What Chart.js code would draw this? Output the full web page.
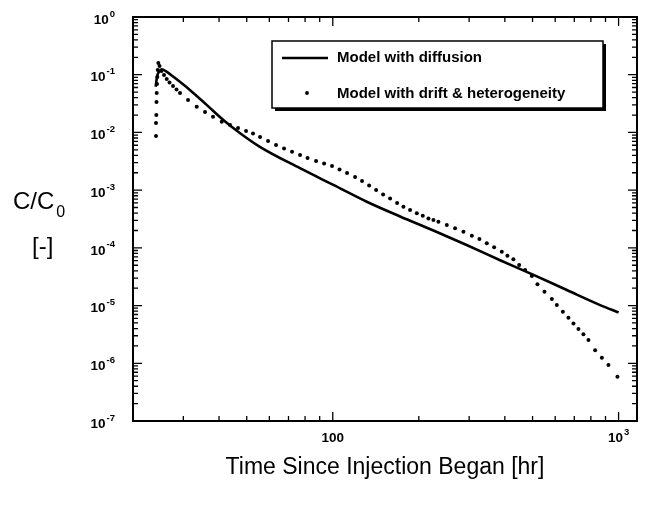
<!DOCTYPE html>
<html>
<head>
<meta charset="utf-8">
<script src="https://cdn.jsdelivr.net/npm/chart.js@4.4.1/dist/chart.umd.min.js"></script>
<style>
  html, body { margin: 0; padding: 0; background: #fff; }
  #wrap { width: 645px; height: 508px; }
</style>
</head>
<body>
<div id="wrap"><canvas id="chart" width="645" height="508"></canvas></div>
<script>
// Model with diffusion (solid line)
const diffusionTime = [24.0, 24.3, 24.7, 25.2, 26.2, 27.7, 31.7, 36.2, 41.4, 47.4, 55.4, 76.8, 100.5,
  131.5, 172, 225, 294, 385, 504, 659, 862, 1000];
const diffusionConc = [0.062, 0.095, 0.113, 0.124, 0.113, 0.092, 0.054, 0.030, 0.0164, 0.0097, 0.0057,
  0.0024, 0.00123, 6.3e-4, 3.5e-4, 2.0e-4, 1.12e-4, 6.1e-5, 3.4e-5, 1.86e-5, 1.02e-5, 7.6e-6];

// Model with drift & heterogeneity (dots)
const driftTime = [24.07, 24.07, 24.13, 24.17, 24.21, 24.27, 24.33, 24.41, 24.53, 24.77, 25.17, 25.68,
  26.24, 26.84, 27.61, 28.40, 29.21, 31.16, 33.42, 35.73, 38.11, 40.88, 43.71, 46.62, 49.72, 52.60,
  55.66, 59.36, 63.32, 67.53, 72.03, 76.82, 81.61, 87.41, 93.24, 99.4, 105.6, 112.2, 119.7, 126.6,
  134.0, 141.8, 150.0, 158.7, 167.9, 176.7, 186.4, 196.8, 206.5, 216.1, 225.0, 234.2, 250.6, 267.9,
  286.5, 306.6, 325.9, 345.9, 366.9, 390.3, 408.3, 428.5, 448.9, 471.1, 497.2, 520.2, 550.4, 584.2,
  608.1, 638.3, 667.7, 695.2, 723.8, 753.5, 784.5, 827.9, 874.0, 921.7, 990.8];
const driftConc = [0.00866, 0.01455, 0.0200, 0.0336, 0.0482, 0.0690, 0.0912, 0.1207, 0.1595, 0.1415,
  0.1159, 0.0988, 0.0842, 0.0732, 0.0637, 0.0554, 0.0482, 0.0364, 0.0279, 0.02257, 0.01871, 0.01532,
  0.01343, 0.01192, 0.01057, 0.00957, 0.00832, 0.00710, 0.00605, 0.00526, 0.00463, 0.00406, 0.00360,
  0.00319, 0.00289, 0.00262, 0.00228, 0.00198, 0.00169, 0.00144, 0.00120, 0.001004, 8.39e-4, 7.15e-4,
  5.98e-4, 5.16e-4, 4.52e-4, 3.96e-4, 3.60e-4, 3.24e-4, 3.03e-4, 2.83e-4, 2.48e-4, 2.18e-4, 1.90e-4,
  1.62e-4, 1.42e-4, 1.20e-4, 1.02e-4, 8.56e-5, 7.30e-5, 6.32e-5, 5.03e-5, 4.12e-5, 3.25e-5, 2.33e-5,
  1.73e-5, 1.30e-5, 1.02e-5, 7.81e-6, 6.15e-6, 4.91e-6, 3.91e-6, 3.17e-6, 2.52e-6, 1.69e-6, 1.25e-6,
  9.31e-7, 5.83e-7];

// Axes
const xMin = 20, xMax = 1160;
const yMin = 1e-7, yMax = 1;
const xTicks = [100, 1000];
const xTickLabels = [["100", ""], ["10", "3"]];
const yTicks = [1, 1e-1, 1e-2, 1e-3, 1e-4, 1e-5, 1e-6, 1e-7];
const yTickLabels = [["10", "0"], ["10", "-1"], ["10", "-2"], ["10", "-3"], ["10", "-4"], ["10", "-5"], ["10", "-6"], ["10", "-7"]];

const xTitle = "Time Since Injection Began [hr]";
const seriesNames = ["Model with diffusion", "Model with drift & heterogeneity"];

const toPoints = (xs, ys) => xs.map((t, i) => ({ x: t, y: ys[i] }));

// minor tick values (2..9 per decade) inside the ranges
function minorTicks(min, max) {
    const out = [];
    for (let e = Math.floor(Math.log10(min)); e <= Math.ceil(Math.log10(max)); e++) {
        for (let m = 2; m <= 9; m++) {
            const v = m * Math.pow(10, e);
            if (v > min * 1.0001 && v < max * 0.9999) out.push(v);
        }
    }
    return out;
}

function drawPower(ctx, base, exp, x, y, align) {
    const baseFont = "bold 13.5px 'Liberation Sans', Arial, sans-serif";
    const expFont = "bold 9.5px 'Liberation Sans', Arial, sans-serif";
    ctx.font = baseFont;
    const bw = ctx.measureText(base).width;
    ctx.font = expFont;
    const ew = exp ? ctx.measureText(exp).width + 1 : 0;
    let left = x;
    if (align === "right") left = x - bw - ew;
    if (align === "center") left = x - (bw + ew) / 2;
    ctx.textAlign = "left";
    ctx.textBaseline = "middle";
    ctx.font = baseFont;
    ctx.fillText(base, left, y);
    if (exp) {
        ctx.font = expFont;
        ctx.fillText(exp, left + bw + 1, y - 6);
    }
}

const decorations = {
    id: "decorations",
    afterDraw(chart) {
        const { ctx, chartArea: a } = chart;
        const xs = chart.scales.x, ys = chart.scales.y;
        ctx.save();
        ctx.strokeStyle = "#000";
        ctx.fillStyle = "#000";

        // frame
        ctx.lineWidth = 2;
        ctx.strokeRect(a.left, a.top, a.right - a.left, a.bottom - a.top);

        // inward ticks on all four sides
        ctx.lineWidth = 1.3;
        ctx.beginPath();
        const tickY = (v, len) => {
            const p = ys.getPixelForValue(v);
            ctx.moveTo(a.left, p); ctx.lineTo(a.left + len, p);
            ctx.moveTo(a.right, p); ctx.lineTo(a.right - len, p);
        };
        const tickX = (v, len) => {
            const p = xs.getPixelForValue(v);
            ctx.moveTo(p, a.bottom); ctx.lineTo(p, a.bottom - len);
            ctx.moveTo(p, a.top); ctx.lineTo(p, a.top + len);
        };
        yTicks.forEach(v => tickY(v, 9));
        minorTicks(yMin, yMax).forEach(v => tickY(v, 5));
        xTicks.forEach(v => tickX(v, 9));
        minorTicks(xMin, xMax).forEach(v => tickX(v, 5));
        ctx.stroke();

        // tick labels
        yTicks.forEach((v, i) => {
            drawPower(ctx, yTickLabels[i][0], yTickLabels[i][1], a.left - 18, ys.getPixelForValue(v) + 3, "right");
        });
        xTicks.forEach((v, i) => {
            drawPower(ctx, xTickLabels[i][0], xTickLabels[i][1], xs.getPixelForValue(v), a.bottom + 17, "center");
        });

        // axis titles
        ctx.textBaseline = "middle";
        ctx.textAlign = "center";
        ctx.font = "23px 'Liberation Sans', Arial, sans-serif";
        ctx.fillText(xTitle, (a.left + a.right) / 2, a.bottom + 47);

        ctx.textAlign = "left";
        ctx.font = "24px 'Liberation Sans', Arial, sans-serif";
        ctx.fillText("C/C", 13, 202);
        const cw = ctx.measureText("C/C").width;
        ctx.font = "16px 'Liberation Sans', Arial, sans-serif";
        ctx.fillText("0", 13 + cw + 2, 213);
        ctx.font = "24px 'Liberation Sans', Arial, sans-serif";
        ctx.fillText("[-]", 32, 247);

        // legend box with drop shadow
        const lx = 272, ly = 41, lw = 331, lh = 67;
        ctx.fillRect(lx + 3, ly + 3, lw, lh);
        ctx.fillStyle = "#fff";
        ctx.fillRect(lx, ly, lw, lh);
        ctx.lineWidth = 1.5;
        ctx.strokeRect(lx, ly, lw, lh);
        ctx.fillStyle = "#000";

        ctx.lineWidth = 2.5;
        ctx.beginPath();
        ctx.moveTo(282, 58);
        ctx.lineTo(328, 58);
        ctx.stroke();
        ctx.beginPath();
        ctx.arc(307, 93, 1.9, 0, Math.PI * 2);
        ctx.fill();

        ctx.font = "bold 15px 'Liberation Sans', Arial, sans-serif";
        ctx.textAlign = "left";
        ctx.fillText(seriesNames[0], 337, 58);
        ctx.fillText(seriesNames[1], 337, 94);
        ctx.restore();
    }
};

new Chart(document.getElementById("chart"), {
    type: "scatter",
    data: {
        datasets: [
            {
                label: seriesNames[0],
                data: toPoints(diffusionTime, diffusionConc),
                showLine: true,
                borderColor: "#000",
                borderWidth: 2.6,
                pointRadius: 0,
                cubicInterpolationMode: "monotone",
                order: 2
            },
            {
                label: seriesNames[1],
                data: toPoints(driftTime, driftConc),
                showLine: false,
                pointRadius: 2,
                pointBorderWidth: 0,
                pointBackgroundColor: "#000",
                order: 1
            }
        ]
    },
    options: {
        responsive: false,
        animation: false,
        devicePixelRatio: 1,
        layout: { padding: { left: 133, right: 8, top: 17, bottom: 87 } },
        plugins: {
            legend: { display: false },
            tooltip: { enabled: false }
        },
        scales: {
            x: { type: "logarithmic", min: xMin, max: xMax, display: false },
            y: { type: "logarithmic", min: yMin, max: yMax, display: false }
        }
    },
    plugins: [decorations]
});
</script>
</body>
</html>
